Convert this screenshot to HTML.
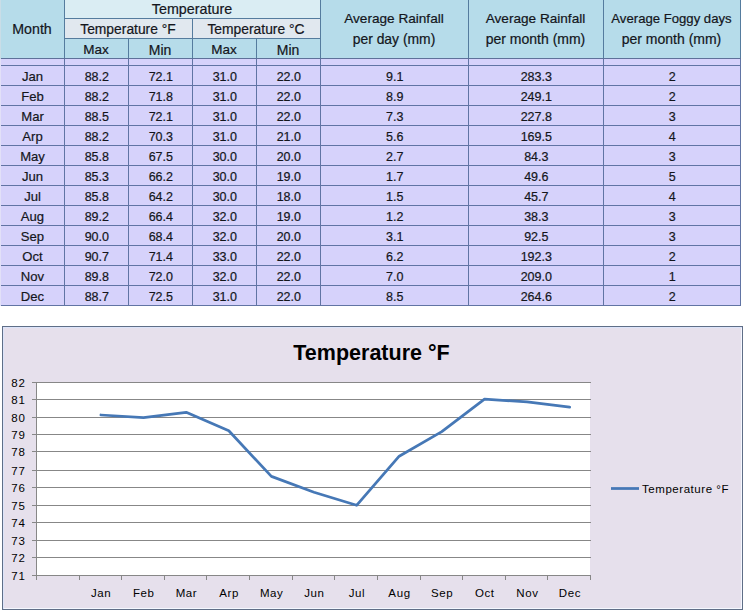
<!DOCTYPE html>
<html><head><meta charset="utf-8"><style>
html,body{margin:0;padding:0;background:#fff;}
body{width:747px;height:614px;position:relative;overflow:hidden;font-family:"Liberation Sans",sans-serif;color:#14161c;}
.a{position:absolute;}
.h,.v{position:absolute;background:#5A6E9E;}
.t{position:absolute;-webkit-text-stroke:0.2px #14161c;font-size:14px;line-height:20px;text-align:center;white-space:nowrap;}
.n{position:absolute;-webkit-text-stroke:0.2px #14161c;font-size:12.5px;line-height:20px;text-align:center;white-space:nowrap;}
.yl{position:absolute;font-size:11.5px;line-height:14px;text-align:right;width:30px;left:-4px;letter-spacing:1px;color:#000;}
.xl{position:absolute;font-size:11.5px;line-height:14px;text-align:center;width:60px;top:586px;letter-spacing:0.6px;color:#000;}
</style></head><body>

<div class="a" style="left:0;top:0;width:741px;height:59px;background:#B6DCEA"></div>
<div class="a" style="left:64px;top:0;width:256px;height:18px;background:#DAEDF3"></div>
<div class="a" style="left:64px;top:18px;width:256px;height:20px;background:#E1E8EF"></div>
<div class="a" style="left:0;top:59px;width:741px;height:247px;background:#D6D2FB"></div>
<div class="a" style="left:0;top:0;width:1px;height:59px;background:#C9DDE7"></div>
<div class="a" style="left:0;top:59px;width:1px;height:247px;background:#E2E0F8"></div>
<div class="a" style="left:64px;top:18px;width:257px;height:1px;background:#557C9E"></div>
<div class="a" style="left:64px;top:38px;width:257px;height:1px;background:#557C9E"></div>
<div class="a" style="left:1px;top:58px;width:740px;height:1px;background:#5E7199"></div>
<div class="a" style="left:1px;top:65px;width:740px;height:1px;background:#6174A4"></div>
<div class="a" style="left:1px;top:85px;width:740px;height:1px;background:#6174A4"></div>
<div class="a" style="left:1px;top:105px;width:740px;height:1px;background:#6174A4"></div>
<div class="a" style="left:1px;top:125px;width:740px;height:1px;background:#6174A4"></div>
<div class="a" style="left:1px;top:145px;width:740px;height:1px;background:#6174A4"></div>
<div class="a" style="left:1px;top:165px;width:740px;height:1px;background:#6174A4"></div>
<div class="a" style="left:1px;top:185px;width:740px;height:1px;background:#6174A4"></div>
<div class="a" style="left:1px;top:205px;width:740px;height:1px;background:#6174A4"></div>
<div class="a" style="left:1px;top:225px;width:740px;height:1px;background:#6174A4"></div>
<div class="a" style="left:1px;top:245px;width:740px;height:1px;background:#6174A4"></div>
<div class="a" style="left:1px;top:265px;width:740px;height:1px;background:#6174A4"></div>
<div class="a" style="left:1px;top:285px;width:740px;height:1px;background:#6174A4"></div>
<div class="a" style="left:1px;top:305px;width:740px;height:1px;background:#6174A4"></div>
<div class="a" style="left:64px;top:0px;width:1px;height:58px;background:#557C9E"></div>
<div class="a" style="left:64px;top:59px;width:1px;height:247px;background:#6174A4"></div>
<div class="a" style="left:128px;top:38px;width:1px;height:20px;background:#557C9E"></div>
<div class="a" style="left:128px;top:59px;width:1px;height:247px;background:#6174A4"></div>
<div class="a" style="left:192px;top:18px;width:1px;height:40px;background:#557C9E"></div>
<div class="a" style="left:192px;top:59px;width:1px;height:247px;background:#6174A4"></div>
<div class="a" style="left:256px;top:38px;width:1px;height:20px;background:#557C9E"></div>
<div class="a" style="left:256px;top:59px;width:1px;height:247px;background:#6174A4"></div>
<div class="a" style="left:320px;top:0px;width:1px;height:58px;background:#557C9E"></div>
<div class="a" style="left:320px;top:59px;width:1px;height:247px;background:#6174A4"></div>
<div class="a" style="left:468px;top:0px;width:1px;height:58px;background:#557C9E"></div>
<div class="a" style="left:468px;top:59px;width:1px;height:247px;background:#6174A4"></div>
<div class="a" style="left:603px;top:0px;width:1px;height:58px;background:#557C9E"></div>
<div class="a" style="left:603px;top:59px;width:1px;height:247px;background:#6174A4"></div>
<div class="a" style="left:740px;top:0px;width:1px;height:58px;background:#557C9E"></div>
<div class="a" style="left:740px;top:59px;width:1px;height:247px;background:#6174A4"></div>
<div class="t" style="left:0px;width:64px;top:18.7px;font-size:14.2px">Month</div>
<div class="t" style="left:64px;width:256px;top:-0.7px;font-size:14.3px">Temperature</div>
<div class="t" style="left:64px;width:128px;top:19px;font-size:13.85px">Temperature °F</div>
<div class="t" style="left:192px;width:128px;top:19px;font-size:13.85px">Temperature °C</div>
<div class="t" style="left:64px;width:64px;top:39.7px;font-size:13.5px">Max</div>
<div class="t" style="left:128px;width:64px;top:39.7px;font-size:14px">Min</div>
<div class="t" style="left:192px;width:64px;top:39.7px;font-size:13.5px">Max</div>
<div class="t" style="left:256px;width:64px;top:39.7px;font-size:14px">Min</div>
<div class="t" style="left:320px;width:148px;top:9px;font-size:13.6px">Average Rainfall</div>
<div class="t" style="left:320px;width:148px;top:28.5px;font-size:13.9px">per day (mm)</div>
<div class="t" style="left:468px;width:135px;top:9px;font-size:13.6px">Average Rainfall</div>
<div class="t" style="left:468px;width:135px;top:28.5px;font-size:14px">per month (mm)</div>
<div class="t" style="left:603px;width:137px;top:9px;font-size:13.15px">Average Foggy days</div>
<div class="t" style="left:603px;width:137px;top:28.5px;font-size:14px">per month (mm)</div>
<div class="n" style="left:0.5px;width:64px;top:67px;font-size:13.1px">Jan</div>
<div class="n" style="left:64.8px;width:64px;top:67px">88.2</div>
<div class="n" style="left:128.8px;width:64px;top:67px">72.1</div>
<div class="n" style="left:192.8px;width:64px;top:67px">31.0</div>
<div class="n" style="left:256.8px;width:64px;top:67px">22.0</div>
<div class="n" style="left:320.8px;width:148px;top:67px">9.1</div>
<div class="n" style="left:468.8px;width:135px;top:67px">283.3</div>
<div class="n" style="left:603.8px;width:137px;top:67px">2</div>
<div class="n" style="left:0.5px;width:64px;top:87px;font-size:13.1px">Feb</div>
<div class="n" style="left:64.8px;width:64px;top:87px">88.2</div>
<div class="n" style="left:128.8px;width:64px;top:87px">71.8</div>
<div class="n" style="left:192.8px;width:64px;top:87px">31.0</div>
<div class="n" style="left:256.8px;width:64px;top:87px">22.0</div>
<div class="n" style="left:320.8px;width:148px;top:87px">8.9</div>
<div class="n" style="left:468.8px;width:135px;top:87px">249.1</div>
<div class="n" style="left:603.8px;width:137px;top:87px">2</div>
<div class="n" style="left:0.5px;width:64px;top:107px;font-size:13.1px">Mar</div>
<div class="n" style="left:64.8px;width:64px;top:107px">88.5</div>
<div class="n" style="left:128.8px;width:64px;top:107px">72.1</div>
<div class="n" style="left:192.8px;width:64px;top:107px">31.0</div>
<div class="n" style="left:256.8px;width:64px;top:107px">22.0</div>
<div class="n" style="left:320.8px;width:148px;top:107px">7.3</div>
<div class="n" style="left:468.8px;width:135px;top:107px">227.8</div>
<div class="n" style="left:603.8px;width:137px;top:107px">3</div>
<div class="n" style="left:0.5px;width:64px;top:127px;font-size:13.1px">Arp</div>
<div class="n" style="left:64.8px;width:64px;top:127px">88.2</div>
<div class="n" style="left:128.8px;width:64px;top:127px">70.3</div>
<div class="n" style="left:192.8px;width:64px;top:127px">31.0</div>
<div class="n" style="left:256.8px;width:64px;top:127px">21.0</div>
<div class="n" style="left:320.8px;width:148px;top:127px">5.6</div>
<div class="n" style="left:468.8px;width:135px;top:127px">169.5</div>
<div class="n" style="left:603.8px;width:137px;top:127px">4</div>
<div class="n" style="left:0.5px;width:64px;top:147px;font-size:13.1px">May</div>
<div class="n" style="left:64.8px;width:64px;top:147px">85.8</div>
<div class="n" style="left:128.8px;width:64px;top:147px">67.5</div>
<div class="n" style="left:192.8px;width:64px;top:147px">30.0</div>
<div class="n" style="left:256.8px;width:64px;top:147px">20.0</div>
<div class="n" style="left:320.8px;width:148px;top:147px">2.7</div>
<div class="n" style="left:468.8px;width:135px;top:147px">84.3</div>
<div class="n" style="left:603.8px;width:137px;top:147px">3</div>
<div class="n" style="left:0.5px;width:64px;top:167px;font-size:13.1px">Jun</div>
<div class="n" style="left:64.8px;width:64px;top:167px">85.3</div>
<div class="n" style="left:128.8px;width:64px;top:167px">66.2</div>
<div class="n" style="left:192.8px;width:64px;top:167px">30.0</div>
<div class="n" style="left:256.8px;width:64px;top:167px">19.0</div>
<div class="n" style="left:320.8px;width:148px;top:167px">1.7</div>
<div class="n" style="left:468.8px;width:135px;top:167px">49.6</div>
<div class="n" style="left:603.8px;width:137px;top:167px">5</div>
<div class="n" style="left:0.5px;width:64px;top:187px;font-size:13.1px">Jul</div>
<div class="n" style="left:64.8px;width:64px;top:187px">85.8</div>
<div class="n" style="left:128.8px;width:64px;top:187px">64.2</div>
<div class="n" style="left:192.8px;width:64px;top:187px">30.0</div>
<div class="n" style="left:256.8px;width:64px;top:187px">18.0</div>
<div class="n" style="left:320.8px;width:148px;top:187px">1.5</div>
<div class="n" style="left:468.8px;width:135px;top:187px">45.7</div>
<div class="n" style="left:603.8px;width:137px;top:187px">4</div>
<div class="n" style="left:0.5px;width:64px;top:207px;font-size:13.1px">Aug</div>
<div class="n" style="left:64.8px;width:64px;top:207px">89.2</div>
<div class="n" style="left:128.8px;width:64px;top:207px">66.4</div>
<div class="n" style="left:192.8px;width:64px;top:207px">32.0</div>
<div class="n" style="left:256.8px;width:64px;top:207px">19.0</div>
<div class="n" style="left:320.8px;width:148px;top:207px">1.2</div>
<div class="n" style="left:468.8px;width:135px;top:207px">38.3</div>
<div class="n" style="left:603.8px;width:137px;top:207px">3</div>
<div class="n" style="left:0.5px;width:64px;top:227px;font-size:13.1px">Sep</div>
<div class="n" style="left:64.8px;width:64px;top:227px">90.0</div>
<div class="n" style="left:128.8px;width:64px;top:227px">68.4</div>
<div class="n" style="left:192.8px;width:64px;top:227px">32.0</div>
<div class="n" style="left:256.8px;width:64px;top:227px">20.0</div>
<div class="n" style="left:320.8px;width:148px;top:227px">3.1</div>
<div class="n" style="left:468.8px;width:135px;top:227px">92.5</div>
<div class="n" style="left:603.8px;width:137px;top:227px">3</div>
<div class="n" style="left:0.5px;width:64px;top:247px;font-size:13.1px">Oct</div>
<div class="n" style="left:64.8px;width:64px;top:247px">90.7</div>
<div class="n" style="left:128.8px;width:64px;top:247px">71.4</div>
<div class="n" style="left:192.8px;width:64px;top:247px">33.0</div>
<div class="n" style="left:256.8px;width:64px;top:247px">22.0</div>
<div class="n" style="left:320.8px;width:148px;top:247px">6.2</div>
<div class="n" style="left:468.8px;width:135px;top:247px">192.3</div>
<div class="n" style="left:603.8px;width:137px;top:247px">2</div>
<div class="n" style="left:0.5px;width:64px;top:267px;font-size:13.1px">Nov</div>
<div class="n" style="left:64.8px;width:64px;top:267px">89.8</div>
<div class="n" style="left:128.8px;width:64px;top:267px">72.0</div>
<div class="n" style="left:192.8px;width:64px;top:267px">32.0</div>
<div class="n" style="left:256.8px;width:64px;top:267px">22.0</div>
<div class="n" style="left:320.8px;width:148px;top:267px">7.0</div>
<div class="n" style="left:468.8px;width:135px;top:267px">209.0</div>
<div class="n" style="left:603.8px;width:137px;top:267px">1</div>
<div class="n" style="left:0.5px;width:64px;top:287px;font-size:13.1px">Dec</div>
<div class="n" style="left:64.8px;width:64px;top:287px">88.7</div>
<div class="n" style="left:128.8px;width:64px;top:287px">72.5</div>
<div class="n" style="left:192.8px;width:64px;top:287px">31.0</div>
<div class="n" style="left:256.8px;width:64px;top:287px">22.0</div>
<div class="n" style="left:320.8px;width:148px;top:287px">8.5</div>
<div class="n" style="left:468.8px;width:135px;top:287px">264.6</div>
<div class="n" style="left:603.8px;width:137px;top:287px">2</div>
<div class="a" style="left:2px;top:326px;width:739px;height:282px;border:1px solid #5F6E87;box-shadow:inset 1px 1px 0 #DCE4FA,inset -1px -1px 0 #F5F8FF;background:#E6E0EC"></div>
<div class="a" style="left:2px;top:340px;width:739px;text-align:center;font-weight:bold;font-size:21.5px;line-height:26px;color:#000">Temperature °F</div>
<svg class="a" style="left:0;top:0" width="747" height="614"><rect x="36" y="382" width="554" height="193" fill="#fff"/><line x1="32" y1="382.5" x2="591" y2="382.5" stroke="#878787" stroke-width="1"/><line x1="32" y1="399.5" x2="591" y2="399.5" stroke="#878787" stroke-width="1"/><line x1="32" y1="417.5" x2="591" y2="417.5" stroke="#878787" stroke-width="1"/><line x1="32" y1="434.5" x2="591" y2="434.5" stroke="#878787" stroke-width="1"/><line x1="32" y1="451.5" x2="591" y2="451.5" stroke="#878787" stroke-width="1"/><line x1="32" y1="470.5" x2="591" y2="470.5" stroke="#878787" stroke-width="1"/><line x1="32" y1="487.5" x2="591" y2="487.5" stroke="#878787" stroke-width="1"/><line x1="32" y1="505.5" x2="591" y2="505.5" stroke="#878787" stroke-width="1"/><line x1="32" y1="522.5" x2="591" y2="522.5" stroke="#878787" stroke-width="1"/><line x1="32" y1="540.5" x2="591" y2="540.5" stroke="#878787" stroke-width="1"/><line x1="32" y1="557.5" x2="591" y2="557.5" stroke="#878787" stroke-width="1"/><line x1="32" y1="575.5" x2="591" y2="575.5" stroke="#878787" stroke-width="1"/><line x1="36.5" y1="382" x2="36.5" y2="580" stroke="#878787" stroke-width="1"/><line x1="36.5" y1="575" x2="36.5" y2="580" stroke="#878787" stroke-width="1"/><line x1="79.5" y1="575" x2="79.5" y2="580" stroke="#878787" stroke-width="1"/><line x1="121.5" y1="575" x2="121.5" y2="580" stroke="#878787" stroke-width="1"/><line x1="164.5" y1="575" x2="164.5" y2="580" stroke="#878787" stroke-width="1"/><line x1="206.5" y1="575" x2="206.5" y2="580" stroke="#878787" stroke-width="1"/><line x1="249.5" y1="575" x2="249.5" y2="580" stroke="#878787" stroke-width="1"/><line x1="292.5" y1="575" x2="292.5" y2="580" stroke="#878787" stroke-width="1"/><line x1="334.5" y1="575" x2="334.5" y2="580" stroke="#878787" stroke-width="1"/><line x1="377.5" y1="575" x2="377.5" y2="580" stroke="#878787" stroke-width="1"/><line x1="420.5" y1="575" x2="420.5" y2="580" stroke="#878787" stroke-width="1"/><line x1="462.5" y1="575" x2="462.5" y2="580" stroke="#878787" stroke-width="1"/><line x1="505.5" y1="575" x2="505.5" y2="580" stroke="#878787" stroke-width="1"/><line x1="547.5" y1="575" x2="547.5" y2="580" stroke="#878787" stroke-width="1"/><line x1="590.5" y1="575" x2="590.5" y2="580" stroke="#878787" stroke-width="1"/><polyline points="100.9,415.0 143.5,417.6 186.2,412.3 228.8,430.8 271.4,476.4 314.0,492.2 356.6,505.3 399.2,456.2 441.8,431.6 484.5,399.2 527.1,401.8 569.7,407.1" fill="none" stroke="#4678B6" stroke-width="2.75" stroke-linejoin="round" stroke-linecap="round"/><line x1="611" y1="488.5" x2="639" y2="488.5" stroke="#4678B6" stroke-width="2.75"/></svg>
<div class="yl" style="top:376px">82</div>
<div class="yl" style="top:393px">81</div>
<div class="yl" style="top:411px">80</div>
<div class="yl" style="top:428px">79</div>
<div class="yl" style="top:445px">78</div>
<div class="yl" style="top:464px">77</div>
<div class="yl" style="top:481px">76</div>
<div class="yl" style="top:499px">75</div>
<div class="yl" style="top:516px">74</div>
<div class="yl" style="top:534px">73</div>
<div class="yl" style="top:551px">72</div>
<div class="yl" style="top:569px">71</div>
<div class="xl" style="left:71.2px">Jan</div>
<div class="xl" style="left:113.8px">Feb</div>
<div class="xl" style="left:156.5px">Mar</div>
<div class="xl" style="left:199.1px">Arp</div>
<div class="xl" style="left:241.7px">May</div>
<div class="xl" style="left:284.3px">Jun</div>
<div class="xl" style="left:326.9px">Jul</div>
<div class="xl" style="left:369.5px">Aug</div>
<div class="xl" style="left:412.1px">Sep</div>
<div class="xl" style="left:454.8px">Oct</div>
<div class="xl" style="left:497.4px">Nov</div>
<div class="xl" style="left:540.0px">Dec</div>
<div class="a" style="left:642px;top:482px;font-size:11.5px;line-height:14px;letter-spacing:0.55px;color:#000">Temperature °F</div>
</body></html>
